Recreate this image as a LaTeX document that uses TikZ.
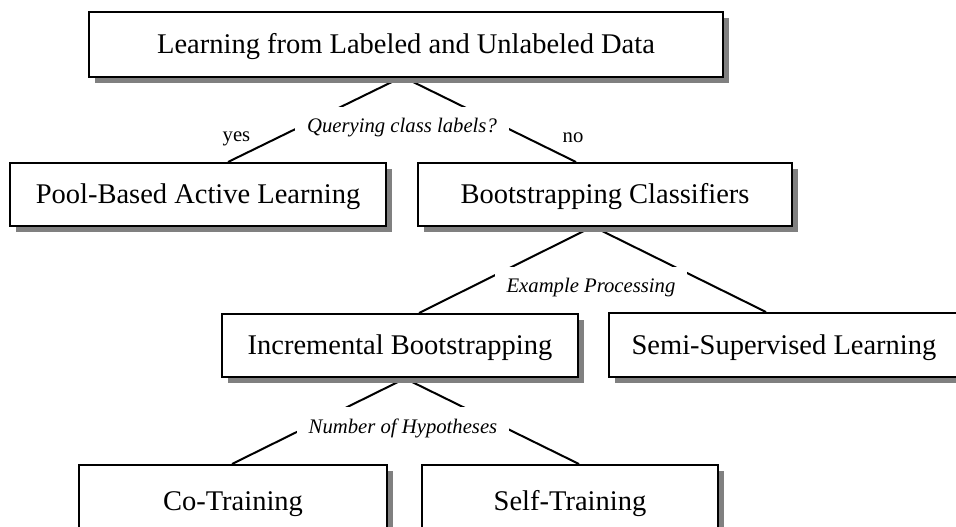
\documentclass[tikz,border=0pt]{standalone}
\usepackage{fontspec}
\setmainfont{Liberation Serif}
\usetikzlibrary{calc,shadows}
\pgfdeclarelayer{background}
\pgfsetlayers{background,main}
\definecolor{shadowgray}{RGB}{128,128,128}
\begin{document}
\begin{tikzpicture}[x=1pt,y=-1pt,
  box/.style={draw=black, line width=2pt, fill=white, inner sep=0pt,
    text height=18.9pt, text depth=0pt,
    font=\fontsize{28.5}{34}\selectfont,
    drop shadow={shadow xshift=6pt, shadow yshift=-6pt, fill=shadowgray, opacity=1}},
  qlabel/.style={fill=white, inner xsep=12pt, inner ysep=11pt, anchor=base,
    font=\fontsize{20.7}{25}\selectfont\itshape},
  ynlabel/.style={inner sep=0pt, anchor=base, font=\fontsize{20.7}{25}\selectfont},
  conn/.style={line width=2pt}]
\useasboundingbox (0,0) rectangle (956,527);
\clip (0,0) rectangle (956,527);

% boxes
\node[box, minimum width=634pt, minimum height=65pt] (top) at (406,44.5) {Learning from Labeled and Unlabeled Data};
\node[box, minimum width=376pt, minimum height=63pt] (pool) at (198,194.5) {Pool-Based Active Learning};
\node[box, minimum width=374pt, minimum height=63pt] (boot) at (605,194.5) {Bootstrapping Classifiers};
\node[box, minimum width=356pt, minimum height=63pt] (incr) at (400,345.5) {Incremental Bootstrapping};
\node[box, minimum width=350pt, minimum height=64pt] (semi) at (784,345) {Semi-Supervised Learning};
\node[box, minimum width=308pt, minimum height=72pt] (co) at (233,501) {Co-Training};
\node[box, minimum width=296pt, minimum height=72pt] (self) at (570,501) {Self-Training};

% connectors (behind everything)
\begin{pgfonlayer}{background}
\draw[conn] ($(top.south)+(-6,0)$) -- ($(pool.north)+(30,0)$);
\draw[conn] ($(top.south)+(-1,0)$) -- ($(boot.north)+(-29,0)$);
\draw[conn] ($(boot.south)+(-13,0)$) -- ($(incr.north)+(19,0)$);
\draw[conn] ($(boot.south)+(-11,0)$) -- ($(semi.north)+(-18,0)$);
\draw[conn] ($(incr.south)+(6,0)$) -- ($(co.north)+(-1,0)$);
\draw[conn] ($(incr.south)+(4,0)$) -- ($(self.north)+(9,0)$);
\end{pgfonlayer}

% labels
\node[qlabel] (q1) at (402,132) {Querying class labels?};
\node[qlabel] (q2) at (591,292) {Example Processing};
\node[qlabel] (q3) at (403,433) {Number of Hypotheses};
\node[ynlabel] (yes) at (236.5,141) {yes};
\node[ynlabel] (no) at (573,142) {no};
\end{tikzpicture}
\end{document}
